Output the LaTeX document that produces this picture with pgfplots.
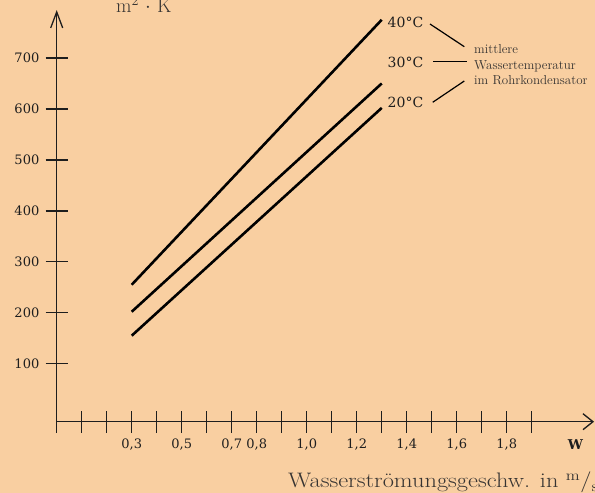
\documentclass[border=0pt]{standalone}
\usepackage{pgfplots}
\pgfplotsset{compat=1.18}
\usepackage{graphicx}
\usepackage{fontspec}
\newfontfamily\dvs{DejaVu Serif}
\usetikzlibrary{arrows.meta}
\definecolor{bg}{RGB}{249,207,161}
\definecolor{ax}{RGB}{30,30,30}
\definecolor{txt}{RGB}{55,52,50}
\begin{document}
\begin{tikzpicture}[x=1pt,y=1pt]
\fill[bg] (0,0) rectangle (595,493);
\begin{axis}[
  at={(56.7pt,71.3pt)}, anchor=south west,
  scale only axis, width=537.3pt, height=411.6pt,
  xmin=0, xmax=2.149, ymin=-13.8, ymax=794,
  axis x line=bottom, axis y line=left,
  axis line style={ax, line width=1.4pt},
  x axis line style={-{Straight Barb[length=10pt,width=16pt,line width=1.3pt]}},
  y axis line style={-{Straight Barb[length=16pt,width=12pt,line width=1.3pt]}},
  xtick={0,0.1,0.2,0.3,0.4,0.5,0.6,0.7,0.8,0.9,1.0,1.1,1.2,1.3,1.4,1.5,1.6,1.7,1.8,1.9},
  xticklabels={},
  ytick={100,200,300,400,500,600,700},
  yticklabels={},
  tick align=center, major tick length=22pt,
  tick style={ax, line width=1.3pt},
  clip=false,
]
\addplot[black, line width=2.6pt] coordinates {(0.3,255) (1.3,775)};
\addplot[black, line width=2.6pt] coordinates {(0.3,202) (1.3,650)};
\addplot[black, line width=2.6pt] coordinates {(0.3,155) (1.3,602)};
\end{axis}
% tick labels
\foreach \v/\l in {0.3/{0,3},0.5/{0,5},0.7/{0,7},0.8/{0,8},1.0/{1,0},1.2/{1,2},1.4/{1,4},1.6/{1,6},1.8/{1,8}}
  \node[font=\dvs\fontsize{13}{15}\selectfont, text=ax, inner sep=0pt] at ({56.7+250.02*\v},48) {\l};
\foreach \v in {100,200,300,400,500,600,700}
  \node[font=\dvs\fontsize{13}{15}\selectfont, text=ax, inner sep=0pt, anchor=east] at (39.5,{78.33+0.50953*\v}) {\v};
% labels
\node[font=\dvs\fontsize{14}{16}\selectfont, text=ax] at (405.5,470.3) {40°C};
\node[font=\dvs\fontsize{14}{16}\selectfont, text=ax] at (405.5,430.3) {30°C};
\node[font=\dvs\fontsize{14}{16}\selectfont, text=ax] at (405.5,390.3) {20°C};
\draw[black, line width=1.2pt] (430,469) -- (464.3,446.3);
\draw[black, line width=1.2pt] (433.3,431.3) -- (466.7,431.3);
\draw[black, line width=1.2pt] (432.7,390.7) -- (464.3,412);
\node[anchor=west, align=left, inner sep=0pt, text=txt, font=\fontsize{13}{15.5}\selectfont] at (474,428) {mittlere\\Wassertemperatur\\im Rohrkondensator};
\node[font=\dvs\bfseries\fontsize{13.5}{15}\selectfont, text=ax] at (575.5,48) {W};
\node[anchor=base west, inner sep=0pt, text=txt, font=\fontsize{21}{24}\selectfont] at (288,5) {\scalebox{1.16}[1]{Wasserströmungsgeschw. in \textsuperscript{m}/\textsubscript{s}}};
\node[anchor=base west, inner sep=0pt, text=txt, font=\fontsize{20}{24}\selectfont] at (116,480) {m$^2$ $\cdot$ K};
\pgfresetboundingbox
\useasboundingbox (0,0) rectangle (595,493);
\end{tikzpicture}
\end{document}
